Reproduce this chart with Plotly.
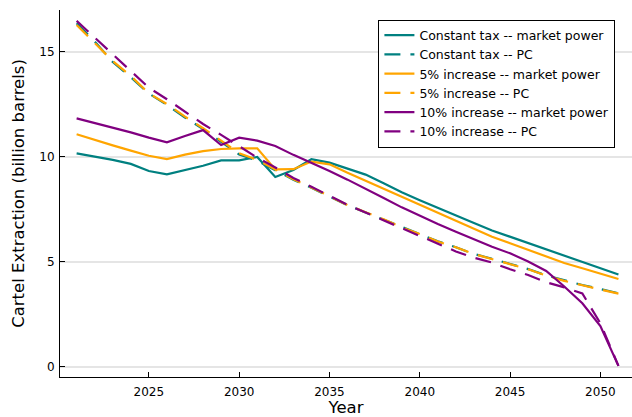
import plotly.graph_objects as go

years = list(range(2021, 2052))

const_tax_mp = [10.17, 10.02, 9.86, 9.67, 9.33, 9.17, 9.38, 9.58, 9.84, 9.84,
                10.0, 9.05, 9.38, 9.89, 9.73, 9.43, 9.16, 8.75, 8.32, 7.94,
                7.57, 7.2, 6.85, 6.5, 6.2, 5.89, 5.57, 5.28, 4.97, 4.69, 4.4]
const_tax_pc = [16.37, 15.5, 14.52, 13.8, 13.02, 12.48, 11.88, 11.33, 10.72, 10.12,
                9.82, 9.38, 8.92, 8.53, 8.1, 7.7, 7.36, 7.02, 6.65, 6.33,
                5.98, 5.7, 5.38, 5.15, 4.91, 4.66, 4.36, 4.12, 3.9, 3.71, 3.51]
inc5_mp = [11.08, 10.8, 10.55, 10.3, 10.06, 9.9, 10.11, 10.28, 10.38, 10.41,
           10.41, 9.41, 9.42, 9.78, 9.65, 9.25, 8.87, 8.46, 8.08, 7.71,
           7.33, 6.97, 6.59, 6.2, 5.89, 5.57, 5.25, 4.95, 4.7, 4.43, 4.19]
inc5_pc = [16.29, 15.43, 14.57, 13.86, 13.03, 12.52, 11.92, 11.37, 10.76, 10.18,
           9.86, 9.41, 8.94, 8.55, 8.12, 7.71, 7.37, 7.03, 6.65, 6.33,
           5.97, 5.7, 5.38, 5.14, 4.9, 4.65, 4.35, 4.1, 3.89, 3.7, 3.49]
inc10_mp = [11.84, 11.62, 11.4, 11.17, 10.92, 10.7, 11.0, 11.28, 10.57, 10.92,
            10.78, 10.52, 10.1, 9.73, 9.33, 8.92, 8.5, 8.05, 7.6, 7.19,
            6.81, 6.44, 6.08, 5.72, 5.41, 5.02, 4.57, 3.83, 3.03, 1.95, 0.05]
inc10_pc = [16.48, 15.68, 14.89, 14.1, 13.3, 12.75, 12.14, 11.57, 11.05, 10.5,
            9.97, 9.5, 9.0, 8.58, 8.13, 7.72, 7.35, 6.98, 6.6, 6.25,
            5.85, 5.5, 5.2, 4.97, 4.65, 4.38, 4.03, 3.79, 3.5, 2.08, 0.05]

series = [
    ("Constant tax -- market power", const_tax_mp, "#008080", "solid"),
    ("Constant tax -- PC", const_tax_pc, "#008080", "16px,10px"),
    ("5% increase -- market power", inc5_mp, "#FFA500", "solid"),
    ("5% increase -- PC", inc5_pc, "#FFA500", "16px,10px"),
    ("10% increase -- market power", inc10_mp, "#800080", "solid"),
    ("10% increase -- PC", inc10_pc, "#800080", "16px,10px"),
]

fig = go.Figure()
for name, vals, color, dash in series:
    fig.add_trace(go.Scatter(x=years, y=vals, mode="lines", name=name,
                             line=dict(color=color, width=2.2, dash=dash)))

font_family = "DejaVu Sans"
fig.update_layout(
    width=632, height=417,
    margin=dict(l=60, r=0, t=10, b=40),
    paper_bgcolor="white", plot_bgcolor="white",
    font=dict(family=font_family, size=12, color="black"),
    showlegend=True,
    legend=dict(x=0.971, y=0.974, xanchor="right", yanchor="top",
                bgcolor="white", bordercolor="black", borderwidth=1,
                font=dict(family=font_family, size=12.5, color="black"),
                tracegroupgap=0),
    hovermode=False,
)
fig.update_xaxes(
    range=[2020.08, 2051.75],
    tickvals=[2025, 2030, 2035, 2040, 2045, 2050],
    ticks="inside", ticklen=5, tickcolor="black", tickwidth=1,
    showline=True, linecolor="black", linewidth=1,
    showgrid=False, zeroline=False,
    ticklabelstandoff=4,
    title=dict(text="Year", font=dict(family=font_family, size=16.5), standoff=6),
    tickfont=dict(family=font_family, size=12),
)
fig.update_yaxes(
    range=[-0.48, 17.0],
    tickvals=[0, 5, 10, 15],
    ticks="inside", ticklen=5, tickcolor="black", tickwidth=1,
    showline=True, linecolor="black", linewidth=1,
    showgrid=True, gridcolor="rgba(0,0,0,0.1)", gridwidth=1.5,
    zeroline=False,
    ticklabelstandoff=2,
    title=dict(text="Cartel Extraction (billion barrels)",
               font=dict(family=font_family, size=16.5), standoff=10),
    tickfont=dict(family=font_family, size=12),
)

fig.write_html("out.html")
